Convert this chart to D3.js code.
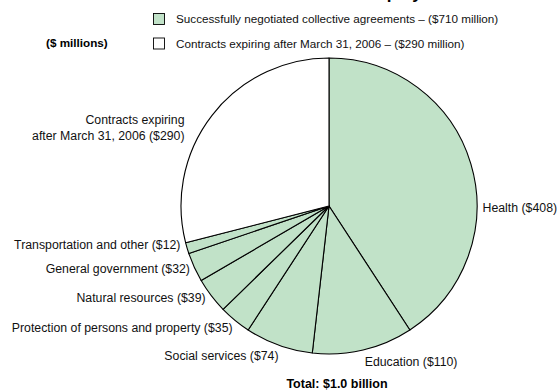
<!DOCTYPE html>
<html>
<head>
<meta charset="utf-8">
<script src="https://cdn.jsdelivr.net/npm/d3@7"></script>
<style>
  html, body { margin: 0; padding: 0; background: #fff; }
  svg { display: block; font-family: "Liberation Sans", Arial, sans-serif; }
</style>
</head>
<body>
<svg id="chart" width="557" height="391"></svg>
<script>
// Sectors, clockwise from 12 o'clock
const categories = [
  "Health",
  "Education",
  "Social services",
  "Protection of persons and property",
  "Natural resources",
  "General government",
  "Transportation and other",
  "Contracts expiring after March 31, 2006"
];
const values = [408, 110, 74, 35, 39, 32, 12, 290];
const groups = ["settled", "settled", "settled", "settled", "settled", "settled", "settled", "expiring"];

const legendLabels = [
  "Successfully negotiated collective agreements \u2013 ($710 million)",
  "Contracts expiring after March 31, 2006 \u2013 ($290 million)"
];
const unitsLabel = "($ millions)";
const totalLabel = "Total: $1.0 billion";
const titleText = "Settlements with unionized employees";

const width = 557, height = 391;
const cx = 329, cy = 206, radius = 148;
const fill = { settled: "#c1e2c8", expiring: "#ffffff" };
const labelFont = 12.3;
const legendFont = 11.7;

// Label placement: anchor on a circle just outside the pie, with small nudges
const labelRadius = 155;
const labelNudge = [
  { dx: 5, dy: 46 },   // Health
  { dx: 0, dy: 5 },    // Education
  { dx: 2, dy: 4 },    // Social services
  { dx: 2, dy: 2 },    // Protection
  { dx: 0, dy: -2 },   // Natural resources
  { dx: 2, dy: -2 },   // General government
  { dx: 0, dy: -5 },   // Transportation
  { dx: -22, dy: 17 }  // Contracts expiring
];

const svg = d3.select("#chart");

// Title (runs above the frame)
svg.append("text")
  .attr("x", 450).attr("y", -1)
  .attr("text-anchor", "end")
  .attr("font-size", 17).attr("font-weight", "bold")
  .text(titleText);

const data = categories.map((c, i) => ({ name: c, value: values[i], group: groups[i], i }));

const pie = d3.pie().sort(null).value(d => d.value)
  .startAngle(0).endAngle(2 * Math.PI);
const arcs = pie(data);
const arc = d3.arc().innerRadius(0).outerRadius(radius);

const g = svg.append("g").attr("transform", `translate(${cx},${cy})`);

g.selectAll("path.slice")
  .data(arcs)
  .join("path")
  .attr("class", "slice")
  .attr("d", arc)
  .attr("fill", d => fill[d.data.group])
  .attr("stroke", "#000")
  .attr("stroke-width", 1.1)
  .attr("stroke-linejoin", "round");

// Slice labels
const labelArc = d3.arc().innerRadius(labelRadius).outerRadius(labelRadius);
arcs.forEach((a, i) => {
  const [lx, ly] = labelArc.centroid(a);
  const mid = (a.startAngle + a.endAngle) / 2;
  const right = mid < Math.PI;
  const x = lx + labelNudge[i].dx;
  const y = ly + labelNudge[i].dy;
  const t = g.append("text")
    .attr("font-size", labelFont)
    .attr("fill", "#111")
    .attr("text-anchor", right ? "start" : "end");
  if (a.data.group === "expiring") {
    t.append("tspan").attr("x", x).attr("y", y - 8).attr("dy", "0.35em").text("Contracts expiring");
    t.append("tspan").attr("x", x).attr("y", y + 8).attr("dy", "0.35em")
      .text(`after March 31, 2006 ($${a.data.value})`);
  } else {
    t.attr("x", x).attr("y", y).attr("dy", "0.35em")
      .text(`${a.data.name} ($${a.data.value})`);
  }
});

// Legend
const legend = svg.append("g");
const legendKeys = ["settled", "expiring"];
legendLabels.forEach((lab, i) => {
  const yy = 19 + i * 24.5;
  legend.append("rect")
    .attr("x", 153.5).attr("y", yy - 5.5)
    .attr("width", 11).attr("height", 11)
    .attr("fill", fill[legendKeys[i]])
    .attr("stroke", "#000").attr("stroke-width", 0.9);
  legend.append("text")
    .attr("x", 176).attr("y", yy).attr("dy", "0.35em")
    .attr("font-size", legendFont).attr("fill", "#111")
    .text(lab);
});

svg.append("text")
  .attr("x", 46).attr("y", 43).attr("dy", "0.35em")
  .attr("font-size", 11.7).attr("font-weight", "bold")
  .text(unitsLabel);

svg.append("text")
  .attr("x", 337).attr("y", 384).attr("dy", "0.35em")
  .attr("text-anchor", "middle")
  .attr("font-size", 12.5).attr("font-weight", "bold")
  .text(totalLabel);
</script>
</body>
</html>
